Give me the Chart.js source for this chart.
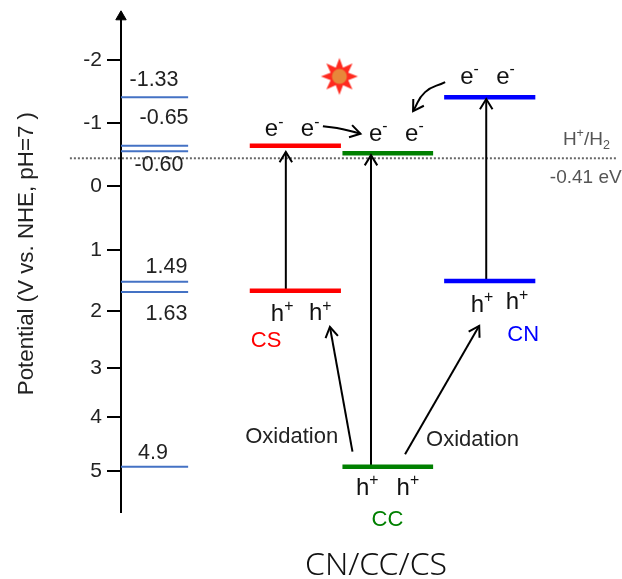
<!DOCTYPE html>
<html>
<head>
<meta charset="utf-8">
<title>CN/CC/CS</title>
<script src="https://cdn.jsdelivr.net/npm/chart.js@4/dist/chart.umd.js"></script>
<style>
  html, body { margin: 0; padding: 0; background: #fff; }
  canvas { display: block; }
</style>
</head>
<body>
<canvas id="chart" width="622" height="579"></canvas>
<script>
// potentials
const yTicks = [-2, -1, 0, 1, 2, 3, 4, 5];
const refLevels = [-1.41, -0.64, -0.55, 1.52, 1.69, 4.92];
const csBands = [-0.64, 1.67];
const ccBands = [-0.52, 4.92];
const cnBands = [-1.41, 1.51];
const hydrogenLevel = -0.44;

// x is a plain 0-100 position across the diagram
const refSpan = [0, 13.4];
const csSpan = [25.7, 43.9];
const ccSpan = [44.2, 62.3];
const cnSpan = [64.5, 82.7];
const hydrogenSpan = [-10.2, 99];

const excitationX = [32.9, 49.9, 72.9];
const excitationFrom = [1.67, 4.92, 1.51];
const excitationTo = [-0.54, -0.49, -1.38];

const oxidationX = [[46.2, 41.7], [56.7, 71.5]];
const oxidationY = [[4.64, 2.28], [4.69, 2.26]];
const transferX = [[40.3, 44.3, 47.8], [64.7, 60.7, 58.3]];
const transferY = [[-0.95, -0.9, -0.83], [-1.65, -1.49, -1.19]];

const sunX = 43.6;
const sunY = -1.74;

const refLabels = ['-1.33', '-0.65', '-0.60', '1.49', '1.63', '4.9'];
const refLabelX = [1.7, 3.7, 2.7, 4.9, 4.9, 3.4];
const refLabelY = [-1.59, -0.98, -0.24, 1.37, 2.15, 4.78];

const carrierLabels = ['e^-', 'e^-', 'e^-', 'e^-', 'e^-', 'e^-', 'h^+', 'h^+', 'h^+', 'h^+', 'h^+', 'h^+'];
const carrierX = [28.7, 35.9, 49.5, 56.7, 67.7, 74.9, 29.9, 37.5, 69.8, 76.8, 46.9, 55];
const carrierY = [-0.79, -0.79, -0.72, -0.72, -1.62, -1.62, 2.17, 2.16, 2.01, 1.97, 5.44, 5.44];

const nameLabels = ['CS', 'CC', 'CN'];
const nameX = [25.9, 50, 77.1];
const nameY = [2.63, 6.0, 2.53];
const nameColors = ['#ff0000', '#008000', '#0000ff'];

const oxidationLabels = ['Oxidation', 'Oxidation'];
const oxidationLabelX = [24.8, 60.9];
const oxidationLabelY = [4.48, 4.53];

// the axis is not evenly spaced in the original, so the scale takes its gaps from here
class KnottedScale extends Chart.LinearScale {
  knotOffset(value) {
    const { values, gaps } = this.options.knots;
    const total = gaps.reduce((a, b) => a + b, 0);
    let i = 0;
    while (i < gaps.length - 1 && value > values[i + 1]) i++;
    let before = 0;
    for (let k = 0; k < i; k++) before += gaps[k];
    const t = (value - values[i]) / (values[i + 1] - values[i]);
    return (before + t * gaps[i]) / total;
  }
  getPixelForValue(value) {
    return this.top + this.knotOffset(value) * this.height;
  }
}
KnottedScale.id = 'knotted';
KnottedScale.defaults = Chart.LinearScale.defaults;
Chart.register(KnottedScale);

function sunImage() {
  const c = document.createElement('canvas');
  c.width = c.height = 40;
  const g = c.getContext('2d');
  g.translate(20, 20);
  g.beginPath();
  for (let i = 0; i < 16; i++) {
    const r = i % 2 ? 9.5 : 18.5;
    const a = i * Math.PI / 8 - Math.PI / 2;
    g.lineTo(r * Math.cos(a), r * Math.sin(a));
  }
  g.closePath();
  g.fillStyle = '#ff2a1f';
  g.fill();
  g.beginPath();
  g.arc(0, 0, 7.5, 0, Math.PI * 2);
  g.fillStyle = '#e8873a';
  g.fill();
  return c;
}

const level = (span, y, color, width) => ({
  data: span.map((x) => ({ x, y })),
  borderColor: color,
  borderWidth: width,
  pointRadius: 0,
  clip: false,
  order: 2,
});

const arrow = (xs, ys, tension) => ({
  data: xs.map((x, i) => ({ x, y: ys[i] })),
  borderColor: '#000',
  borderWidth: 2,
  pointRadius: 0,
  tension: tension || 0,
  clip: false,
  arrow: true,
  order: 3,
});

const datasets = [
  { ...level(hydrogenSpan, hydrogenLevel, '#666666', 2), borderDash: [2, 2], order: 5 },
  ...refLevels.map((y) => level(refSpan, y, '#4472c4', 2)),
  ...csBands.map((y) => level(csSpan, y, '#ff0000', 4.5)),
  ...ccBands.map((y) => level(ccSpan, y, '#008000', 4.5)),
  ...cnBands.map((y) => level(cnSpan, y, '#0000ff', 4.5)),
  ...excitationX.map((x, i) => arrow([x, x], [excitationFrom[i], excitationTo[i]])),
  ...oxidationX.map((xs, i) => arrow(xs, oxidationY[i])),
  ...transferX.map((xs, i) => arrow(xs, transferY[i], 0.5)),
  {
    data: [{ x: sunX, y: sunY }],
    pointStyle: sunImage(),
    showLine: false,
    clip: false,
  },
  {
    // tip of the potential axis
    data: [{ x: 0, y: -2.72 }],
    pointStyle: 'triangle',
    pointRadius: 6,
    backgroundColor: '#000',
    borderColor: '#000',
    showLine: false,
    clip: false,
  },
];

function drawRich(ctx, text, x, y, size, family) {
  const parts = text.match(/[\^_].|[^\^_]+/g);
  ctx.textAlign = 'left';
  ctx.textBaseline = 'alphabetic';
  let cx = x;
  parts.forEach((p) => {
    const small = p[0] === '^' || p[0] === '_';
    const s = small ? p.slice(1) : p;
    const fs = small ? size * 0.66 : size;
    let dy = 0;
    if (p[0] === '^') dy = -size * 0.4;
    if (p[0] === '_') dy = size * 0.2;
    ctx.font = fs + 'px ' + family;
    ctx.fillText(s, cx, y + dy);
    cx += ctx.measureText(s).width;
  });
}

const diagramText = {
  id: 'diagramText',
  afterDatasetsDraw(chart) {
    const { ctx, scales: { x, y } } = chart;
    const sans = '"Liberation Sans", Arial, sans-serif';
    const put = (text, vx, vy, size, color) => {
      ctx.fillStyle = color;
      drawRich(ctx, text, x.getPixelForValue(vx), y.getPixelForValue(vy), size, sans);
    };
    ctx.save();
    // arrow heads follow the last segment of each arrow dataset
    chart.data.datasets.forEach((ds, i) => {
      if (!ds.arrow) return;
      const pts = chart.getDatasetMeta(i).data;
      const tip = pts[pts.length - 1];
      const prev = pts[pts.length - 2];
      const a = Math.atan2(tip.y - prev.y, tip.x - prev.x);
      ctx.strokeStyle = '#000';
      ctx.lineWidth = 2;
      ctx.beginPath();
      ctx.moveTo(tip.x - 12 * Math.cos(a - 0.55), tip.y - 12 * Math.sin(a - 0.55));
      ctx.lineTo(tip.x, tip.y);
      ctx.lineTo(tip.x - 12 * Math.cos(a + 0.55), tip.y - 12 * Math.sin(a + 0.55));
      ctx.stroke();
    });
    refLabels.forEach((t, i) => put(t, refLabelX[i], refLabelY[i], 21.5, '#222'));
    carrierLabels.forEach((t, i) => put(t, carrierX[i], carrierY[i], 24, '#111'));
    nameLabels.forEach((t, i) => put(t, nameX[i], nameY[i], 22, nameColors[i]));
    oxidationLabels.forEach((t, i) => put(t, oxidationLabelX[i], oxidationLabelY[i], 22, '#222'));
    put('H^+/H_2', 88.2, -0.65, 19, '#555');
    put('-0.41 eV', 85.6, -0.05, 19, '#555');

    // axis title sits off-centre in the original, the scale title can only centre it
    ctx.save();
    ctx.translate(x.getPixelForValue(-17.6), y.getPixelForValue(1.06));
    ctx.rotate(-Math.PI / 2);
    ctx.font = '22.3px ' + sans;
    ctx.fillStyle = '#222';
    ctx.textAlign = 'center';
    ctx.textBaseline = 'alphabetic';
    ctx.fillText('Potential (V vs. NHE, pH=7 )', 0, 0);
    ctx.restore();

    ctx.font = '300 32px "Noto Sans", sans-serif';
    ctx.fillStyle = '#111';
    ctx.textAlign = 'center';
    ctx.fillText('CN/CC/CS', x.getPixelForValue(50.9), y.getPixelForValue(6.9));
    ctx.restore();
  },
};

new Chart(document.getElementById('chart').getContext('2d'), {
  type: 'line',
  data: { datasets },
  plugins: [diagramText],
  options: {
    responsive: false,
    animation: false,
    events: [],
    layout: { autoPadding: false, padding: { top: 15, bottom: 67, left: 0, right: 0 } },
    plugins: { legend: { display: false }, tooltip: { enabled: false } },
    scales: {
      x: { type: 'linear', min: 0, max: 100, display: false },
      y: {
        type: 'knotted',
        min: -2.75,
        max: 5.75,
        knots: {
          values: [-2.75, -2, -1, 0, 1, 2, 3, 4, 5, 5.75],
          gaps: [45, 63, 63, 64, 61, 57, 49, 54, 41],
        },
        afterFit: (scale) => {
          scale.width = 121;
          scale.paddingTop = 0;
          scale.paddingBottom = 0;
        },
        afterBuildTicks: (scale) => { scale.ticks = yTicks.map((value) => ({ value })); },
        border: { color: '#000', width: 2 },
        grid: { drawOnChartArea: false, color: '#000', lineWidth: 2, tickLength: 14 },
        ticks: {
          color: '#222',
          padding: 5,
          font: { family: '"Liberation Sans", Arial, sans-serif', size: 21 },
        },
      },
    },
  },
});
</script>
</body>
</html>
